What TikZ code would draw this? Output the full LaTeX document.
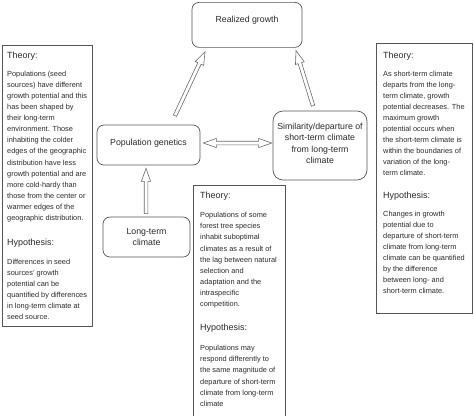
\documentclass[tikz,border=0pt]{standalone}
\usepackage{fontspec}
\setmainfont{Liberation Sans}
\usetikzlibrary{calc}
\definecolor{frame}{HTML}{555555}
\definecolor{ink}{HTML}{2A2A2A}
\definecolor{arr}{HTML}{6A6A6A}
\newcommand\arrhlen{13bp}
\newcommand\arrsw{1.8bp}
\newcommand\arrhw{4.6bp}
\newcommand\hollowarrow[2]{%
  \path #1 coordinate (ha-s) #2 coordinate (ha-e);
  \path ($(ha-e)!\arrhlen!(ha-s)$) coordinate (ha-c);
  \draw[fatarrow] ($(ha-s)!\arrsw!-90:(ha-e)$) -- ($(ha-c)!\arrsw!90:(ha-s)$)
    -- ($(ha-c)!\arrhw!90:(ha-s)$) -- (ha-e) -- ($(ha-c)!\arrhw!-90:(ha-s)$)
    -- ($(ha-c)!\arrsw!-90:(ha-s)$) -- ($(ha-s)!\arrsw!90:(ha-e)$) -- cycle;}
\newcommand\hollowdarrow[2]{%
  \path #1 coordinate (ha-s) #2 coordinate (ha-e);
  \path ($(ha-e)!\arrhlen!(ha-s)$) coordinate (ha-c);
  \path ($(ha-s)!\arrhlen!(ha-e)$) coordinate (ha-d);
  \draw[fatarrow] (ha-s) -- ($(ha-d)!\arrhw!-90:(ha-e)$) -- ($(ha-d)!\arrsw!-90:(ha-e)$)
    -- ($(ha-c)!\arrsw!90:(ha-s)$) -- ($(ha-c)!\arrhw!90:(ha-s)$) -- (ha-e)
    -- ($(ha-c)!\arrhw!-90:(ha-s)$) -- ($(ha-c)!\arrsw!-90:(ha-s)$)
    -- ($(ha-d)!\arrsw!90:(ha-e)$) -- ($(ha-d)!\arrhw!90:(ha-e)$) -- cycle;}
\tikzset{
  fatarrow/.style={draw=arr, line width=0.6bp, fill=white, line join=miter},
  roundbox/.style={draw=frame, line width=0.7bp, rounded corners=7bp, fill=white, inner sep=0pt},
  theorybox/.style={draw=frame, line width=1bp, fill=white, inner sep=0pt, anchor=north west},
  boxtext/.style={text=ink, align=center, inner sep=0pt, font=\fontsize{8.8}{11.5}\selectfont},
  headtext/.style={text=ink, anchor=north west, inner sep=0pt, font=\fontsize{9}{11}\selectfont},
  bodytext/.style={text=ink, anchor=north west, inner sep=0pt, align=left, font=\fontsize{7.4}{#1}\selectfont},
  bodytext/.default=11,
}
\begin{document}
\begin{tikzpicture}[x=1bp, y=-1bp]
\useasboundingbox (0,0) rectangle (474,415);

% theory boxes
\node[theorybox, minimum width=90bp, minimum height=281bp] (lbox) at (2,45) {};
\node[theorybox, minimum width=96bp, minimum height=270bp] (rbox) at (376,43) {};
\node[theorybox, minimum width=92bp, minimum height=240bp] (mbox) at (193,185) {};

% left box text
\node[headtext] (lh1) at (7,51.5) {Theory:};
\node[bodytext=11.1] (lb1) at (7,71) {Populations (seed\\sources) have different\\growth potential and this\\has been shaped by\\their long-term\\environment. Those\\inhabiting the colder\\edges of the geographic\\distribution have less\\growth potential and are\\more cold-hardy than\\those from the center or\\warmer edges of the\\geographic distribution.};
\node[headtext] (lh2) at (7,238.7) {Hypothesis:};
\node[bodytext=11.1] (lb2) at (7,259) {Differences in seed\\sources' growth\\potential can be\\quantified by differences\\in long-term climate at\\seed source.};

% right box text
\node[headtext] (rh1) at (383,51.5) {Theory:};
\node[bodytext=11] (rb1) at (383,71) {As short-term climate\\departs from the long-\\term climate, growth\\potential decreases. The\\maximum growth\\potential occurs when\\the short-term climate is\\within the boundaries of\\variation of the long-\\term climate.};
\node[headtext] (rh2) at (383,191.7) {Hypothesis:};
\node[bodytext=11] (rb2) at (383,211) {Changes in growth\\potential due to\\departure of short-term\\climate from long-term\\climate can be quantified\\by the difference\\between long- and\\short-term climate.};

% middle box text
\node[headtext] (mh1) at (200,191.5) {Theory:};
\node[bodytext=11.2] (mb1) at (200,212) {Populations of some\\forest tree species\\inhabit suboptimal\\climates as a result of\\the lag between natural\\selection and\\adaptation and the\\intraspecific\\competition.};
\node[headtext] (mh2) at (200,323.7) {Hypothesis:};
\node[bodytext=11.2] (mb2) at (200,345) {Populations may\\respond differently to\\the same magnitude of\\departure of short-term\\climate from long-term\\climate};

% rounded boxes
\node[roundbox, minimum width=110bp, minimum height=45bp, anchor=north] (rg) at (247,2) {};
\node[boxtext] (rgt) at ($(rg.center)+(0,-5)$) {Realized growth};
\node[roundbox, minimum width=103bp, minimum height=40bp] (pg) at (148.5,145) {};
\node[boxtext] (pgt) at ($(pg.center)+(0,-2)$) {Population genetics};
\node[roundbox, minimum width=94bp, minimum height=69bp, rounded corners=10bp] (sim) at (320,145.5) {};
\node[boxtext] (simt) at ($(sim.center)+(0,-2)$) {Similarity/departure of\\short-term climate\\from long-term\\climate};
\node[roundbox, minimum width=87bp, minimum height=40bp] (ltc) at (146.5,237) {};
\node[boxtext] (ltct) at (ltc.center) {Long-term\\climate};

% arrows
\hollowarrow{([shift={(26.5,-9)}]pg.north)}{([shift={(-42,4)}]rg.south)}
\hollowarrow{([shift={(-7,-5)}]sim.north)}{([shift={(49,3)}]rg.south)}
\hollowdarrow{([shift={(3,-2)}]pg.east)}{([shift={(-1,-2.5)}]sim.west)}
\hollowarrow{([shift={(-0.5,-3)}]ltc.north)}{([shift={(-2.5,3)}]pg.south)}
\end{tikzpicture}
\end{document}
